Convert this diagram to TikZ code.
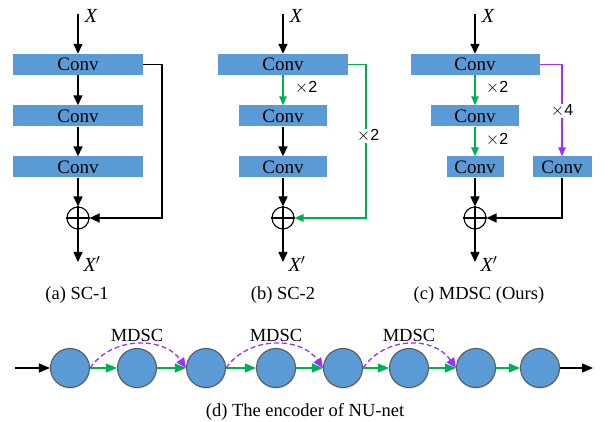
\documentclass[tikz,border=0pt]{standalone}
\usepackage{fontspec}
\setmainfont{Liberation Serif}
\newfontfamily\sansf{Liberation Sans}
\usetikzlibrary{arrows.meta,shadows}
\definecolor{boxblue}{HTML}{5B9BD5}
\definecolor{mgreen}{HTML}{00B050}
\definecolor{mpurple}{HTML}{9B30FF}
\definecolor{cgray}{HTML}{5A5A5A}
\begin{document}
\begin{tikzpicture}[x=1pt,y=-1pt,
  conv/.style={fill=boxblue,minimum height=21pt,inner sep=0pt,font=\fontsize{19}{19}\selectfont},
  plus/.style={circle,draw,line width=1.1pt,minimum size=22pt,inner sep=0pt},
  barr/.style={line width=1.6pt,-{Triangle[length=10pt,width=9pt]}},
  bthin/.style={line width=1.1pt,-{Triangle[length=10pt,width=9pt]}},
  garr/.style={mgreen,line width=1.3pt,-{Triangle[length=9pt,width=7.5pt]}},
  parr/.style={mpurple,line width=1.3pt,-{Triangle[length=9pt,width=7.5pt]}},
  mult/.style={font=\sansf\fontsize{16}{16}\selectfont,inner sep=1pt},
  xlab/.style={font=\fontsize{20}{20}\selectfont\itshape,inner sep=0pt},
  captext/.style={font=\fontsize{18.5}{18.5}\selectfont},
  enc/.style={circle,fill=boxblue,draw=cgray,line width=1.1pt,minimum size=39pt,inner sep=0pt,
    drop shadow={shadow xshift=0.5pt,shadow yshift=-2pt,opacity=0.15}},
  darr/.style={mpurple,line width=1.3pt,dash pattern=on 5pt off 3pt,-{Triangle[length=10pt,width=9pt]}},
  ggarr/.style={mgreen,line width=1.3pt,-{Triangle[length=11pt,width=9pt]}}
]
\useasboundingbox (0,0) rectangle (608,422);

% ---------- (a) SC-1 ----------
\coordinate (ain) at (78,14);
\node[conv,minimum width=130pt] (a1) at (78,64.5) {Conv};
\node[conv,minimum width=130pt] (a2) at (78,116) {Conv};
\node[conv,minimum width=130pt] (a3) at (78,167) {Conv};
\node[plus] (ap) at (78,218) {};
\draw[line width=1.1pt] (ap.north) -- (ap.south) (ap.west) -- (ap.east);
\coordinate (aout) at (78,262);
\coordinate (askip) at (162,64.5);
\draw[barr] (ain) -- (a1.north);
\draw[barr] (a1.south) -- (a2.north);
\draw[barr] (a2.south) -- (a3.north);
\draw[barr] (a3.south) -- (ap.north);
\draw[barr] (ap.south) -- (aout);
\draw[bthin] (a1.east) -- (askip) |- (ap.east);
\node[xlab] (ax) at (91,16) {X};
\node[xlab] (axp) at (92,264) {X$'$};
\node[captext] (acap) at (77,295) {(a) SC-1};

% ---------- (b) SC-2 ----------
\coordinate (bin) at (283,14);
\node[conv,minimum width=130pt] (b1) at (283,64.5) {Conv};
\node[conv,minimum width=88pt] (b2) at (283,116) {Conv};
\node[conv,minimum width=88pt] (b3) at (283,167) {Conv};
\node[plus] (bp) at (283,218) {};
\draw[line width=1.1pt] (bp.north) -- (bp.south) (bp.west) -- (bp.east);
\coordinate (bout) at (283,262);
\coordinate (bskip) at (366,64.5);
\draw[barr] (bin) -- (b1.north);
\draw[garr] (b1.south) -- (b2.north);
\draw[barr] (b2.south) -- (b3.north);
\draw[barr] (b3.south) -- (bp.north);
\draw[barr] (bp.south) -- (bout);
\draw[garr] (b1.east) -- (bskip) |- (bp.east);
\node[mult,fill=white] (bm2) at (368,136) {$\times$2};
\node[mult] (bm1) at (306,88) {$\times$2};
\node[xlab] (bx) at (296,16) {X};
\node[xlab] (bxp) at (297,264) {X$'$};
\node[captext] (bcap) at (283,295) {(b) SC-2};

% ---------- (c) MDSC ----------
\coordinate (cin) at (475,14);
\node[conv,minimum width=129pt] (c1) at (475,64.5) {Conv};
\node[conv,minimum width=88pt] (c2) at (475,116) {Conv};
\node[conv,minimum width=57pt] (c3) at (475,167) {Conv};
\node[conv,minimum width=59pt] (c4) at (562,167) {Conv};
\node[plus] (cp) at (475,218) {};
\draw[line width=1.1pt] (cp.north) -- (cp.south) (cp.west) -- (cp.east);
\coordinate (cout) at (475,262);
\coordinate (cskip) at (562,64.5);
\draw[barr] (cin) -- (c1.north);
\draw[garr] (c1.south) -- (c2.north);
\draw[garr] (c2.south) -- (c3.north);
\draw[barr] (c3.south) -- (cp.north);
\draw[barr] (cp.south) -- (cout);
\draw[parr] (c1.east) -- (cskip) -- (c4.north);
\draw[barr] (c4.south) |- (cp.east);
\node[mult,fill=white] (cm4) at (562,111) {$\times$4};
\node[mult] (cm1) at (497,88) {$\times$2};
\node[mult] (cm2) at (497,140) {$\times$2};
\node[xlab] (cx) at (488,16) {X};
\node[xlab] (cxp) at (489,264) {X$'$};
\node[captext] (ccap) at (479,295) {(c) MDSC (Ours)};

% ---------- (d) encoder ----------
\foreach \i/\x in {1/70,2/137,3/206,4/276,5/343,6/409,7/476,8/540}
  \node[enc] (n\i) at (\x,368) {};
\coordinate (din) at (15,368);
\coordinate (dout) at (593,368);
\draw[line width=1.3pt,-{Triangle[length=11pt,width=9pt]}] (din) -- (n1.west);
\draw[line width=1.3pt,-{Triangle[length=11pt,width=9pt]}] (n8.east) -- (dout);
\foreach \i/\j in {1/2,2/3,3/4,4/5,5/6,6/7,7/8}
  \draw[ggarr] (n\i.east) -- (n\j.west);
\foreach \i/\j in {1/3,3/5,5/7}
  \draw[darr] (n\i.east) .. controls +(22,-32) and +(-22,-32) .. (n\j.west);
\node[captext] (m1) at (137,335) {MDSC};
\node[captext] (m2) at (276,335) {MDSC};
\node[captext] (m3) at (409,335) {MDSC};
\node[captext] (dcap) at (305,412) {(d) The encoder of NU-net};
\end{tikzpicture}
\end{document}
